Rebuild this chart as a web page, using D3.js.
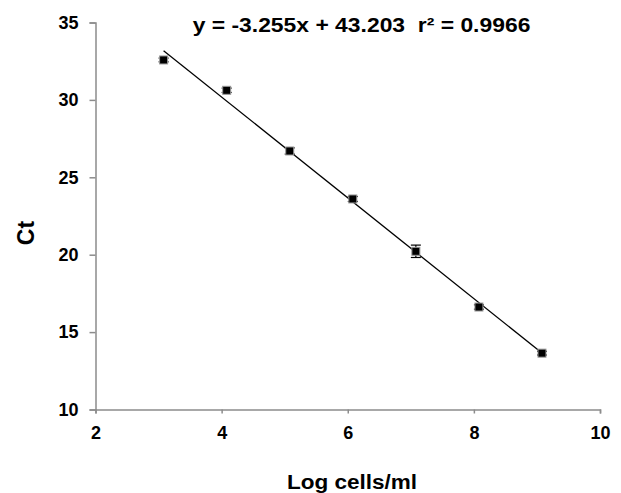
<!DOCTYPE html>
<html>
<head>
<meta charset="utf-8">
<script src="https://cdn.jsdelivr.net/npm/d3@7"></script>
<style>
  body { margin: 0; background: #fff; }
  text { font-family: "Liberation Sans", Arial, sans-serif; font-weight: bold; fill: #000; }
</style>
</head>
<body>
<svg id="chart" width="621" height="493"></svg>
<script>
// data
var logCells = [3.08, 4.08, 5.08, 6.08, 7.08, 8.08, 9.08];
var ctMean = [32.58, 30.62, 26.70, 23.60, 20.22, 16.62, 13.64];
var ctErr = [0.12, 0.14, 0.20, 0.16, 0.40, 0.14, 0.12];
var xTicks = [2, 4, 6, 8, 10];
var yTicks = [10, 15, 20, 25, 30, 35];
var slope = -3.255, intercept = 43.203, r2 = 0.9966;

var svg = d3.select("#chart");

// plot area
var pLeft = 95.5, pRight = 600, pTop = 22.5, pBottom = 409.5;

var x = d3.scaleLinear().domain([2, 10]).range([pLeft, pRight]);
var y = d3.scaleLinear().domain([10, 35]).range([pBottom, pTop]);

// axes
var xAxis = svg.append("g")
	.attr("transform", "translate(0," + pBottom + ")")
	.call(d3.axisBottom(x).tickValues(xTicks).tickSize(4).tickPadding(13));
var yAxis = svg.append("g")
	.attr("transform", "translate(" + pLeft + ",0)")
	.call(d3.axisLeft(y).tickValues(yTicks).tickSize(6).tickPadding(11));

[xAxis, yAxis].forEach(function(a) {
	a.attr("font-size", 18).attr("font-family", null);
	a.select(".domain").attr("stroke", "#8c8c8c").attr("stroke-width", 1.5);
	a.selectAll(".tick line").attr("stroke", "#8c8c8c").attr("stroke-width", 1.5);
	a.selectAll(".tick text").attr("fill", "#000");
});

// trendline across data range
var xMin = d3.min(logCells), xMax = d3.max(logCells);
svg.append("line")
	.attr("x1", x(xMin)).attr("y1", y(slope * xMin + intercept))
	.attr("x2", x(xMax)).attr("y2", y(slope * xMax + intercept))
	.attr("stroke", "#000").attr("stroke-width", 1.3);

var pts = logCells.map(function(d, i) { return { x: d, y: ctMean[i], e: ctErr[i] }; });

// error bars
var eb = svg.append("g").selectAll("g").data(pts).enter().append("g");
eb.append("line")
	.attr("x1", function(d) { return x(d.x); }).attr("x2", function(d) { return x(d.x); })
	.attr("y1", function(d) { return y(d.y - d.e); }).attr("y2", function(d) { return y(d.y + d.e); })
	.attr("stroke", "#000").attr("stroke-width", 1.2);
["-", "+"].forEach(function(s) {
	eb.append("line")
		.attr("x1", function(d) { return x(d.x) - 5; }).attr("x2", function(d) { return x(d.x) + 5; })
		.attr("y1", function(d) { return y(s == "-" ? d.y - d.e : d.y + d.e); })
		.attr("y2", function(d) { return y(s == "-" ? d.y - d.e : d.y + d.e); })
		.attr("stroke", "#000").attr("stroke-width", 1.2);
});

// markers
svg.append("g").selectAll("rect").data(pts).enter().append("rect")
	.attr("x", function(d) { return x(d.x) - 4; })
	.attr("y", function(d) { return y(d.y) - 4; })
	.attr("width", 8).attr("height", 8)
	.attr("fill", "#000").attr("stroke", "#999").attr("stroke-width", 1);

// equation (the source image is a bit stretched sideways)
svg.append("text")
	.attr("transform", "translate(361.5,32) scale(1.09,1)")
	.attr("text-anchor", "middle")
	.attr("xml:space", "preserve")
	.style("font-size", "21px")
	.text("y = " + slope + "x + " + intercept + "  r\u00B2 = " + r2);

// axis titles
svg.append("text")
	.attr("transform", "translate(352,489) scale(1.1,1)")
	.attr("text-anchor", "middle")
	.style("font-size", "20.5px")
	.text("Log cells/ml");

svg.append("text")
	.attr("transform", "translate(34,233) rotate(-90)")
	.attr("text-anchor", "middle")
	.style("font-size", "23px")
	.text("Ct");
</script>
</body>
</html>
